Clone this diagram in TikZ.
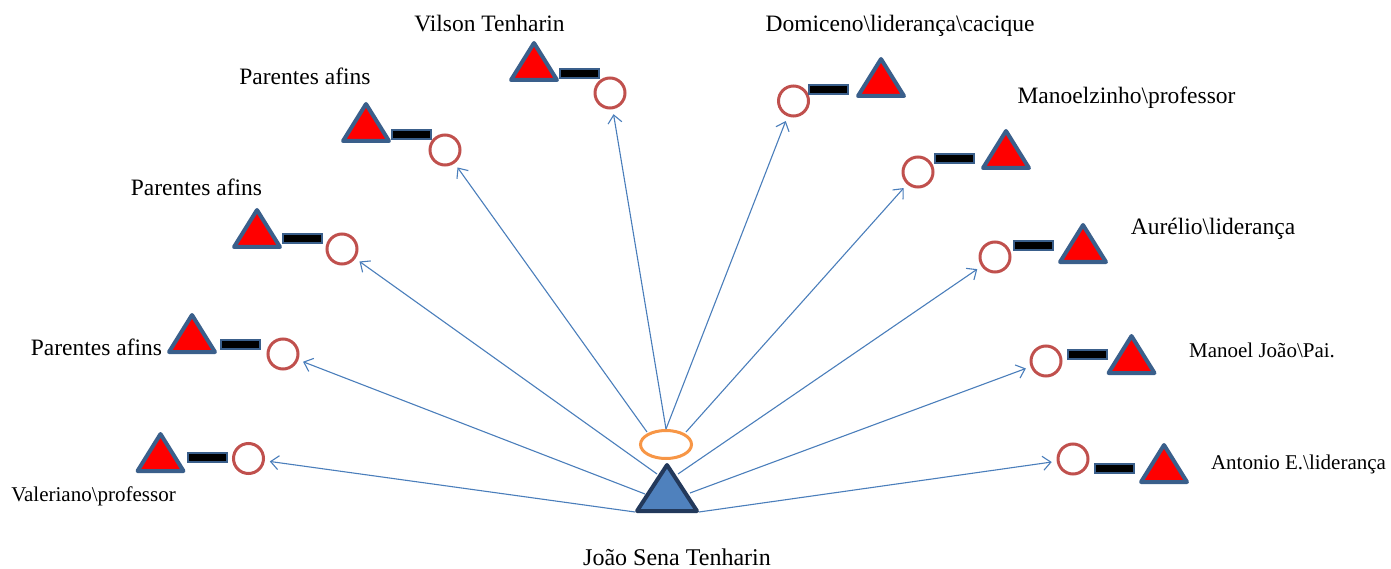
\documentclass[tikz,border=0pt]{standalone}
\usepackage{fontspec}
\setmainfont{Liberation Serif}
\usetikzlibrary{arrows.meta,shapes.geometric}
\definecolor{kinred}{HTML}{FF0000}
\definecolor{kinedge}{HTML}{3A5F8B}
\definecolor{ringred}{HTML}{C0504D}
\definecolor{linkblue}{HTML}{4A7EBB}
\definecolor{egofill}{HTML}{4F81BD}
\definecolor{egoedge}{HTML}{23395B}
\definecolor{halo}{HTML}{F79646}

\tikzset{
  ring/.style={circle, draw=ringred, line width=3pt, minimum size=30pt, inner sep=0pt},
  bond/.style={rectangle, draw=kinedge, fill=black, line width=2pt,
               minimum width=39pt, minimum height=9pt, inner sep=0pt},
  link/.style={draw=linkblue, line width=1.1pt,
               -{Straight Barb[length=8pt,width=14pt]}, shorten >=5pt},
  big/.style={font=\fontsize{23.5}{28}\selectfont, inner sep=0pt},
  small/.style={font=\fontsize{21}{25}\selectfont, inner sep=0pt},
  pics/kin/.style={code={
    \draw[kinedge, fill=kinred, line width=4pt, line join=round]
      (-23,0) -- (23,0) -- (0,-37) -- cycle;}}
}

\begin{document}
\begin{tikzpicture}[x=1pt,y=-1pt]
\useasboundingbox (0,0) rectangle (1391,569);

% ego: triangle with the orange ring above it
\draw[egoedge, fill=egofill, line width=4pt, line join=round]
  (637,511) -- (697,511) -- (667,465) -- cycle;
\node[ellipse, draw=halo, line width=3pt, minimum width=51pt, minimum height=28pt,
      inner sep=0pt] (ego) at (666,444.5) {};
\node[big, font=\fontsize{24}{28}\selectfont] (egoname) at (677,557) {João Sena Tenharin};

% where the links leave the ego
\coordinate (s1) at (635,512);
\coordinate (s2) at (645,494);
\coordinate (s3) at (657,474);
\coordinate (s4) at (647,432);
\coordinate (s5) at (666,429);
\coordinate (s6) at (666,429);
\coordinate (s7) at (686,432);
\coordinate (s8) at (678,474);
\coordinate (s9) at (690,493);
\coordinate (s10) at (699,512);

% married couples: man (triangle), bond, woman (circle)
\pic (t1) at (160.5,471) {kin};
\node[bond] (b1) at (207.5,457.5) {};
\node[ring] (c1) at (248.5,458.5) {};
\node[small] (l1) at (93.5,496) {Valeriano\textbackslash professor};

\pic (t2) at (192,352) {kin};
\node[bond] (b2) at (240.5,344) {};
\node[ring] (c2) at (283,354) {};
\node[big] (l2) at (96.5,347) {Parentes afins};

\pic (t3) at (257,247) {kin};
\node[bond] (b3) at (302,239) {};
\node[ring] (c3) at (342,249) {};
\node[big] (l3) at (196.5,187) {Parentes afins};

\pic (t4) at (366,141) {kin};
\node[bond] (b4) at (411.5,134.5) {};
\node[ring] (c4) at (445,150) {};
\node[big] (l4) at (305,76) {Parentes afins};

\pic (t5) at (534,80) {kin};
\node[bond] (b5) at (579.5,73.5) {};
\node[ring] (c5) at (610,93) {};
\node[big] (l5) at (489.5,24) {Vilson Tenharin};

\node[ring] (c6) at (793.5,101) {};
\node[bond] (b6) at (828.5,89.5) {};
\pic (t6) at (881,96) {kin};
\node[big] (l6) at (900,26) {Domiceno\textbackslash liderança\textbackslash cacique};

\node[ring] (c7) at (918,172) {};
\node[bond] (b7) at (954.5,158.5) {};
\pic (t7) at (1006,168) {kin};
\node[big] (l7) at (1126.5,98) {Manoelzinho\textbackslash professor};

\node[ring] (c8) at (995,257) {};
\node[bond] (b8) at (1033,246) {};
\pic (t8) at (1083,262) {kin};
\node[big] (l8) at (1213,229) {Aurélio\textbackslash liderança};

\node[ring] (c9) at (1046,361) {};
\node[bond] (b9) at (1087.5,354) {};
\pic (t9) at (1131.5,373) {kin};
\node[small] (l9) at (1262,350) {Manoel João\textbackslash Pai.};

\node[ring] (c10) at (1073,459) {};
\node[bond] (b10) at (1114,468.5) {};
\pic (t10) at (1164,482) {kin};
\node[small] (l10) at (1298.5,464) {Antonio E.\textbackslash liderança};

% links from ego to each wife
\foreach \i in {1,...,10} {
  \draw[link] (s\i) -- (c\i);
}
\end{tikzpicture}
\end{document}
